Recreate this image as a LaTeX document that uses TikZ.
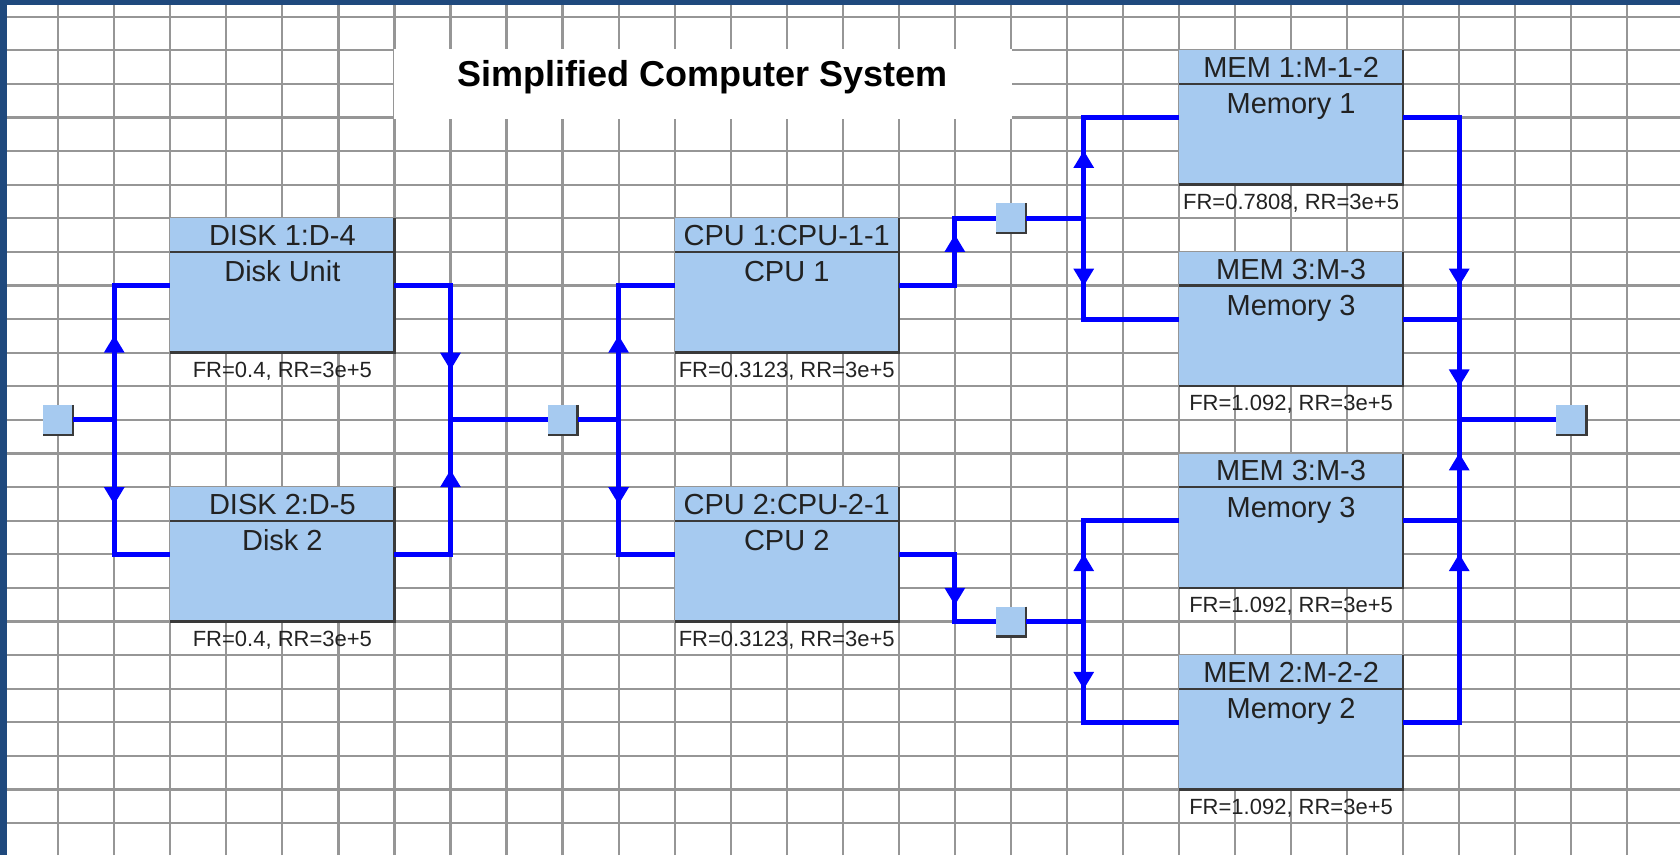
\documentclass[tikz,border=0pt]{standalone}
\usepackage{fontspec}
\setmainfont{Liberation Sans}
\usetikzlibrary{positioning,decorations.markings}
\definecolor{rbdFill}{HTML}{A6CAF0}
\definecolor{rbdGrid}{HTML}{969696}
\definecolor{rbdFrame}{HTML}{1F497D}
\definecolor{rbdEdge}{HTML}{3A3A3A}
\definecolor{rbdText}{HTML}{222222}
\newcommand{\rbdBlock}[5]{%
  \node[hdrbox] (#1h) at (#2) {#3};
  \node[bodybox, below=0pt of #1h] (#1) {#4};
  \node[frlabel, below=0pt of #1] (#1l) {FR=#5, RR=3e+5};
  \draw[boxedge] (#1h.north east) -- (#1.south east) -- (#1.south west);
  \draw[boxedge] (#1h.south west) -- (#1h.south east);
}
\newcommand{\rbdNode}[2]{%
  \node[junc] (#1) at (#2) {};
  \draw[boxedge] (#1.north east) -- (#1.south east) -- (#1.south west);
}

\begin{document}
\begin{tikzpicture}[x=28.02pt,y=-16.8pt,
  hdrbox/.style={fill=rbdFill, inner sep=0pt, outer sep=0pt, minimum width=112.08pt, minimum height=16.8pt, text height=10.4pt, text depth=0pt, text=rbdText, font=\fontsize{14.5}{17}\selectfont},
  bodybox/.style={fill=rbdFill, inner sep=0pt, outer sep=0pt, minimum width=112.08pt, minimum height=50.4pt, text height=15pt, text depth=35.4pt, text=rbdText, font=\fontsize{14.5}{17}\selectfont},
  frlabel/.style={inner sep=0pt, outer sep=0pt, minimum width=112.08pt, minimum height=16.8pt, text height=7.8pt, text depth=0pt, text=rbdText, font=\fontsize{11}{13}\selectfont},
  junc/.style={fill=rbdFill, inner sep=0pt, outer sep=0pt, minimum size=15pt},
  boxedge/.style={draw=rbdEdge, line width=1.2pt},
  wire/.style={draw=blue, line width=2.5pt},
  flow/.style={wire, line cap=rect, postaction={decorate},
    decoration={markings, mark=at position 0.5 with {\fill[blue] (0pt,-5.2pt) -- (8.6pt,0pt) -- (0pt,5.2pt) -- cycle;}}}]
\useasboundingbox (-1.0386,-0.497) rectangle (28.94,24.95);
\draw[rbdGrid, line width=1.1pt] (-1.0386,24.95) grid[xstep=28.02pt,ystep=16.8pt] (28.94,-0.497);
\fill[white] (5.985,0.97) rectangle (17.015,3.03);
\node[anchor=base, inner sep=0pt, font=\fontsize{18}{22}\selectfont\bfseries] (title) at (11.5,2.08) {Simplified Computer System};
\rbdBlock{disk1}{4,6.5}{DISK 1:D-4}{Disk Unit}{0.4}
\rbdBlock{disk2}{4,14.5}{DISK 2:D-5}{Disk 2}{0.4}
\rbdBlock{cpu1}{13,6.5}{CPU 1:CPU-1-1}{CPU 1}{0.3123}
\rbdBlock{cpu2}{13,14.5}{CPU 2:CPU-2-1}{CPU 2}{0.3123}
\rbdBlock{mem1}{22,1.5}{MEM 1:M-1-2}{Memory 1}{0.7808}
\rbdBlock{mem3a}{22,7.5}{MEM 3:M-3}{Memory 3}{1.092}
\rbdBlock{mem3b}{22,13.5}{MEM 3:M-3}{Memory 3}{1.092}
\rbdBlock{mem2}{22,19.5}{MEM 2:M-2-2}{Memory 2}{1.092}
\rbdNode{start}{0,12}
\rbdNode{nodeA}{9,12}
\rbdNode{nodeB}{17,6}
\rbdNode{nodeC}{17,18}
\rbdNode{finish}{27,12}
\coordinate (jA0) at (1,12); \coordinate (jA1) at (1,8); \coordinate (jA2) at (1,16);
\coordinate (jB0) at (7,12); \coordinate (jB1) at (7,8); \coordinate (jB2) at (7,16);
\coordinate (jC0) at (10,12); \coordinate (jC1) at (10,8); \coordinate (jC2) at (10,16);
\coordinate (jD0) at (16,6); \coordinate (jD1) at (16,8); \coordinate (jD2) at (16,16); \coordinate (jD3) at (16,18);
\coordinate (jE0) at (18.3,6); \coordinate (jE1) at (18.3,3); \coordinate (jE2) at (18.3,9);
\coordinate (jF0) at (18.3,18); \coordinate (jF1) at (18.3,15); \coordinate (jF2) at (18.3,21);
\coordinate (jG0) at (25,12); \coordinate (jG1) at (25,3); \coordinate (jG2) at (25,9); \coordinate (jG3) at (25,15); \coordinate (jG4) at (25,21);
\draw[wire] (start) -- (jA0);
\draw[flow] (jA0) -- (jA1); \draw[wire] (jA1) -- (jA1 -| disk1.west);
\draw[flow] (jA0) -- (jA2); \draw[wire] (jA2) -- (jA2 -| disk2.west);
\draw[wire] (jB1 -| disk1.east) -- (jB1); \draw[flow] (jB1) -- (jB0);
\draw[wire] (jB2 -| disk2.east) -- (jB2); \draw[flow] (jB2) -- (jB0);
\draw[wire] (jB0) -- (nodeA);
\draw[wire] (nodeA) -- (jC0);
\draw[flow] (jC0) -- (jC1); \draw[wire] (jC1) -- (jC1 -| cpu1.west);
\draw[flow] (jC0) -- (jC2); \draw[wire] (jC2) -- (jC2 -| cpu2.west);
\draw[wire] (jD1 -| cpu1.east) -- (jD1); \draw[flow] (jD1) -- (jD0); \draw[wire] (jD0) -- (nodeB);
\draw[wire] (jD2 -| cpu2.east) -- (jD2); \draw[flow] (jD2) -- (jD3); \draw[wire] (jD3) -- (nodeC);
\draw[wire] (nodeB) -- (jE0);
\draw[flow] (jE0) -- (jE1); \draw[wire] (jE1) -- (jE1 -| mem1.west);
\draw[flow] (jE0) -- (jE2); \draw[wire] (jE2) -- (jE2 -| mem3a.west);
\draw[wire] (nodeC) -- (jF0);
\draw[flow] (jF0) -- (jF1); \draw[wire] (jF1) -- (jF1 -| mem3b.west);
\draw[flow] (jF0) -- (jF2); \draw[wire] (jF2) -- (jF2 -| mem2.west);
\draw[wire] (jG1 -| mem1.east) -- (jG1); \draw[flow] (jG1) -- (jG0);
\draw[wire] (jG2 -| mem3a.east) -- (jG2); \draw[flow] (jG2) -- (jG0);
\draw[wire] (jG3 -| mem3b.east) -- (jG3); \draw[flow] (jG3) -- (jG0);
\draw[wire] (jG4 -| mem2.east) -- (jG4); \draw[flow] (jG4) -- (jG0);
\draw[wire] (jG0) -- (finish);
\fill[rbdFrame] (-1.0386,-0.497) rectangle (28.94,-0.357);
\fill[rbdFrame] (-1.0386,-0.497) rectangle (-0.919,24.95);
\end{tikzpicture}
\end{document}
